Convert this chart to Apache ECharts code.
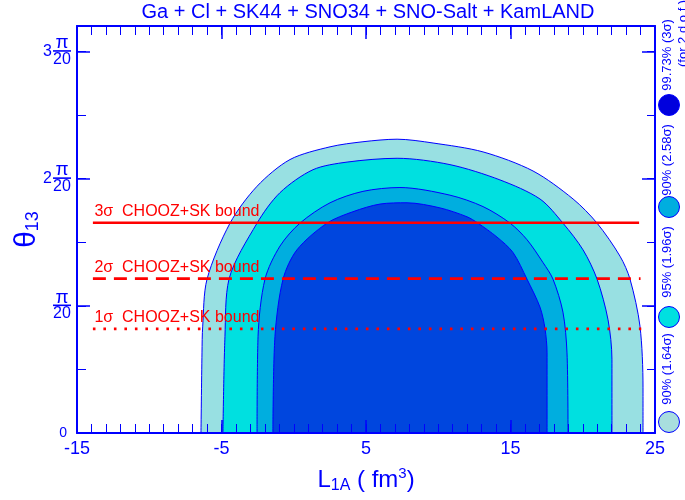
<!DOCTYPE html>
<html><head><meta charset="utf-8">
<script src="https://cdn.jsdelivr.net/npm/echarts@6/dist/echarts.min.js"></script>
<style>html,body{margin:0;padding:0;background:#fff}#c{width:685px;height:500px}</style>
</head><body><div id="c"></div>
<script>
// ---------- data ----------
const titleText = 'Ga + Cl + SK44 + SNO34 + SNO-Salt + KamLAND';
const xTickValues = [-15, -5, 5, 15, 25];
const yTickCoef = ['', '', '2', '3'];          // coefficient of π/20 per tick
// theta13 expressed in units of π/20 ; L1A in fm^3
const outerL = [-6.42,-6.35,-6.30,-6.00,-4.41,-2.54,-0.26,2.51,4.79,7.15,9.64,13.10,16.56,19.33,20.99,22.58,23.27,23.96,24.17,24.17];
const outerT = [0,0.63,0.84,1.21,1.65,1.94,2.15,2.25,2.29,2.31,2.28,2.21,2.06,1.84,1.65,1.39,1.21,0.84,0.36,0];
const cyanL  = [-4.90,-4.76,-4.48,-2.54,-0.95,1.33,3.69,7.15,10.81,14.27,17.04,18.63,20.02,20.99,21.75,22.02,22.02];
const cyanT  = [0,0.76,1.21,1.65,1.89,2.07,2.13,2.16,2.11,1.99,1.84,1.65,1.44,1.21,0.89,0.58,0];
const midL   = [-2.54,-2.47,-1.99,-0.95,0.43,2.51,4.79,7.35,10.81,13.10,14.97,16.14,17.25,17.94,18.63,18.91,18.98];
const midT   = [0,0.76,1.21,1.47,1.65,1.81,1.90,1.93,1.87,1.78,1.65,1.52,1.34,1.21,0.95,0.63,0];
const innerL = [-1.44,-1.30,-0.74,0.22,2.30,4.10,5.97,7.84,10.12,11.99,12.75,14.07,15.17,16.14,17.04,17.39,17.53,17.53];
const innerT = [0,0.76,1.21,1.44,1.65,1.74,1.80,1.81,1.77,1.70,1.65,1.54,1.42,1.21,0.99,0.82,0.63,0];
const boundNames = ['3σ  CHOOZ+SK bound', '2σ  CHOOZ+SK bound', '1σ  CHOOZ+SK bound'];
const boundTheta = [1.654, 1.213, 0.819];
const boundStart = [-13.9, -13.9, -13.9];
const boundEnd   = [23.9, 24.0, 24.05];
const legendLabels = ['99.73% (3σ)', '90% (2.58σ)', '95% (1.96σ)', '90% (1.64σ)'];
const legendNote = '(for 2 d.o.f.)';

// ---------- style ----------
const BLUE = '#0000ff', RED = '#ff0000';
const FONT = '"Liberation Sans", Arial, sans-serif';
const fills = ['#98e0e2', '#00e0e0', '#00aedf', '#0046de'];
const legendFills = ['#0000dd', '#00aedf', '#00e0e0', '#a8dede'];
const dashes = ['solid', [13, 8], [2.6, 7.9]];

const zip = (a, b) => a.map((v, i) => [v, b[i]]);
const chart = echarts.init(document.getElementById('c'), null, {renderer: 'canvas'});

const lineOn = {show: true, onZero: false, lineStyle: {color: BLUE, width: 2}};
const lineOff = {show: false, onZero: false};
const majTick = {show: true, inside: true, length: 13, lineStyle: {color: BLUE, width: 1.5}};
const minTick = {show: true, inside: true, length: 9, lineStyle: {color: BLUE, width: 1}};
const xMajor = (pos) => ({
  type: 'value', position: pos, min: -15, max: 25, interval: 10, z: 20,
  axisLine: lineOn, splitLine: {show: false},
  axisTick: Object.assign({customValues: xTickValues}, majTick),
  axisLabel: {show: false}
});
const xMinor = (pos) => ({
  type: 'value', position: pos, min: -15, max: 25, interval: 1, z: 19,
  axisLine: lineOff, splitLine: {show: false}, axisTick: minTick, axisLabel: {show: false}
});
const yAx = (pos, interval, major) => ({
  type: 'value', position: pos, min: 0, max: 3.2, interval: interval, z: major ? 20 : 19,
  axisLine: major ? lineOn : lineOff, splitLine: {show: false},
  axisTick: major ? majTick : Object.assign({}, minTick, {length: pos === 'right' ? 8 : 9}),
  axisLabel: {show: false}
});

const contours = [[outerL, outerT], [cyanL, cyanT], [midL, midT], [innerL, innerT]];
const series = contours.map((c, i) => ({
  type: 'line', xAxisIndex: 0, yAxisIndex: 0, symbol: 'none', smooth: 0.3,
  data: zip(c[0], c[1]), silent: true, z: 2 + i,
  lineStyle: {color: BLUE, width: 1},
  areaStyle: {color: fills[i], opacity: 1}
}));
boundNames.forEach((nm, i) => {
  series.push({
    type: 'line', xAxisIndex: 0, yAxisIndex: 0, z: 10, silent: true,
    symbol: 'circle', symbolSize: 1, itemStyle: {color: 'rgba(0,0,0,0)'},
    lineStyle: {color: RED, width: i === 0 ? 2.5 : 2.8, type: dashes[i]},
    data: [
      {value: [boundStart[i], boundTheta[i]],
       label: {show: true, position: 'right', distance: 1, offset: [0, -11],
               formatter: nm, color: RED, fontSize: 16, fontFamily: FONT}},
      [boundEnd[i], boundTheta[i]]
    ]
  });
});

const xAxes = [xMajor('bottom'), xMinor('bottom'), xMajor('top'), xMinor('top')];
xAxes[0].axisLabel = {show: true, color: BLUE, fontSize: 18, fontFamily: FONT, margin: 7, customValues: xTickValues};
Object.assign(xAxes[0], {
  name: '{b|L}{s|1A}{b| ( fm}{p|3}{b|)}', nameLocation: 'middle', nameGap: 33,
  nameTextStyle: {color: BLUE, fontFamily: FONT, rich: {
    b: {fontSize: 24, color: BLUE, fontFamily: FONT, verticalAlign: 'middle', lineHeight: 26},
    s: {fontSize: 16, color: BLUE, fontFamily: FONT, verticalAlign: 'bottom', padding: [12, 0, 0, 0]},
    p: {fontSize: 15, color: BLUE, fontFamily: FONT, verticalAlign: 'top', padding: [0, 0, 10, 0]}
  }}
});

const yAxes = [yAx('left', 1, true), yAx('left', 0.5, false), yAx('right', 1, true), yAx('right', 0.5, false)];
yAxes[0].axisLabel = {
  show: true, margin: 6, color: BLUE, fontFamily: FONT,
  formatter: v => v === 0 ? '{z|0}' : (Math.abs(v - Math.round(v)) < 1e-6 ? '{p|π}\n{bar|}\n{d|20}' : ''),
  rich: {
    z: {fontSize: 14, color: BLUE, fontFamily: FONT, padding: [0, 4, 0, 0]},
    p: {fontSize: 19, color: BLUE, fontFamily: FONT, lineHeight: 13, align: 'center'},
    bar: {height: 1.6, width: 18, backgroundColor: BLUE, lineHeight: 3, align: 'center'},
    d: {fontSize: 16, color: BLUE, fontFamily: FONT, lineHeight: 14, align: 'center'}
  }
};
Object.assign(yAxes[0], {
  name: '{t|θ}{s|13}', nameLocation: 'middle', nameGap: 29,
  nameTextStyle: {color: BLUE, rich: {
    t: {fontSize: 30, color: BLUE, fontFamily: FONT, verticalAlign: 'bottom'},
    s: {fontSize: 18, color: BLUE, fontFamily: FONT, verticalAlign: 'bottom', padding: [10, 0, 0, 0]}
  }}
});
yAxes[1].axisLabel = {show: true, margin: 25, color: BLUE, fontSize: 16, fontFamily: FONT,
  formatter: v => (Math.abs(v - Math.round(v)) < 1e-6 && yTickCoef[Math.round(v)]) ? yTickCoef[Math.round(v)] : ''};

chart.setOption({
  backgroundColor: '#fff',
  animation: false,
  grid: {left: 77, right: 30, top: 26, bottom: 67, containLabel: false},
  xAxis: xAxes,
  yAxis: yAxes,
  series: series,
  graphic: [
    {type: 'text', x: 368, y: 12, z: 100, silent: true,
     style: {text: titleText, fill: BLUE, fontSize: 20, fontFamily: FONT, align: 'center', verticalAlign: 'middle'}}
  ].concat(
    [105, 207, 317, 422].map((cy, i) => ({
      type: 'circle', z: 100, silent: true, shape: {cx: 669, cy: cy, r: 10.5},
      style: {fill: legendFills[i], stroke: BLUE, lineWidth: 1}
    })),
    [55, 160, 262, 369].map((cy, i) => ({
      type: 'text', x: 667, y: cy, rotation: Math.PI / 2, z: 100, silent: true,
      style: {text: legendLabels[i], fill: BLUE, fontSize: 13, fontFamily: FONT, align: 'center', verticalAlign: 'middle'}
    })),
    [{type: 'text', x: 683, y: 67, rotation: Math.PI / 2, z: 100, silent: true,
      style: {text: legendNote, fill: BLUE, fontSize: 13, fontFamily: FONT, align: 'left', verticalAlign: 'middle'}}]
  )
});
</script></body></html>
